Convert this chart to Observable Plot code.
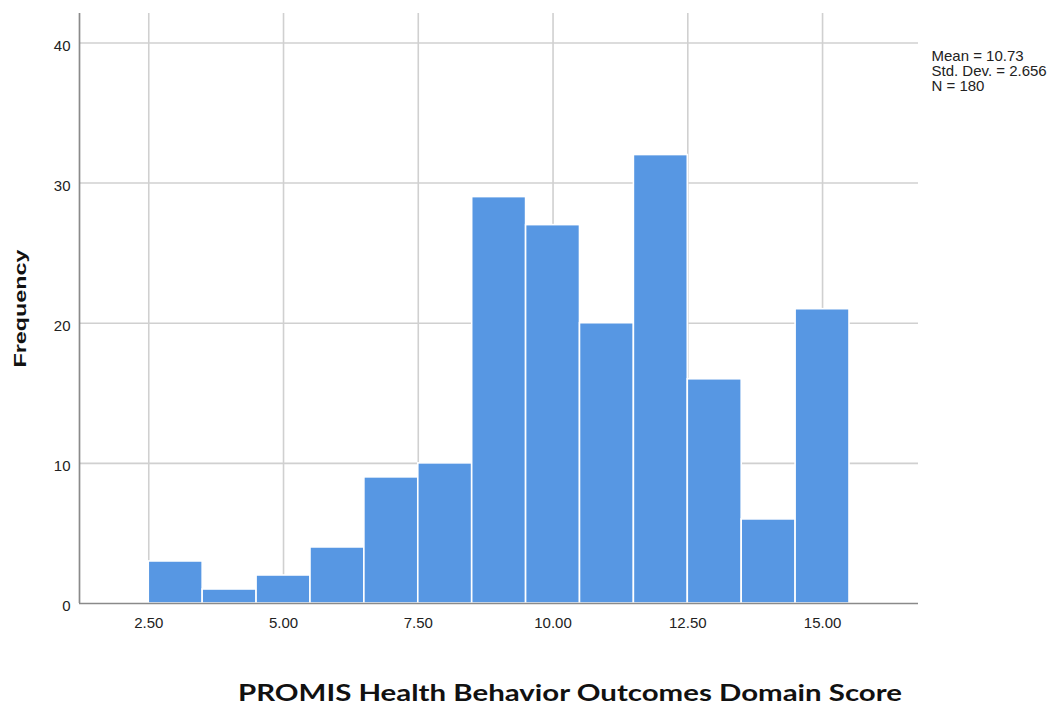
<!DOCTYPE html>
<html>
<head>
<meta charset="utf-8">
<script src="https://cdn.jsdelivr.net/npm/d3@7"></script>
<script src="https://cdn.jsdelivr.net/npm/@observablehq/plot@0.6"></script>
<style>
  html, body { margin: 0; padding: 0; background: #fff; }
</style>
</head>
<body>
<div id="chart"></div>
<script>
// Histogram bins (width 1.0) and their frequencies
const binStarts = [2.5, 3.5, 4.5, 5.5, 6.5, 7.5, 8.5, 9.5, 10.5, 11.5, 12.5, 13.5, 14.5];
const binEnds   = [3.5, 4.5, 5.5, 6.5, 7.5, 8.5, 9.5, 10.5, 11.5, 12.5, 13.5, 14.5, 15.5];
const counts    = [3, 1, 2, 4, 9, 10, 29, 27, 20, 32, 16, 6, 21];
const xTicks = [2.5, 5, 7.5, 10, 12.5, 15];
const yTicks = [0, 10, 20, 30, 40];
const statsLines = ["Mean = 10.73", "Std. Dev. = 2.656", "N = 180"];
const xTitle = "PROMIS Health Behavior Outcomes Domain Score";
const yTitle = "Frequency";

const bins = binStarts.map((s, i) => ({x1: s, x2: binEnds[i], y: counts[i]}));
const sans = "'Liberation Sans', Arial, sans-serif";

const chart = Plot.plot({
  width: 1055,
  height: 707,
  marginLeft: 79,
  marginRight: 137,
  marginTop: 13,
  marginBottom: 104,
  style: {fontFamily: sans, fontSize: "15px", color: "#222", background: "#fff"},
  x: {domain: [1.215, 16.78]},
  y: {domain: [0, 42.1]},
  marks: [
    Plot.gridX(xTicks, {stroke: "#d0d0d0", strokeOpacity: 1, strokeWidth: 1.6}),
    Plot.gridY(yTicks.filter(d => d > 0), {stroke: "#d0d0d0", strokeOpacity: 1, strokeWidth: 1.6}),
    Plot.rectY(bins, {x1: "x1", x2: "x2", y: "y", fill: "#5797e3", stroke: "#ffffff", strokeWidth: 1.6}),
    Plot.axisX(xTicks, {tickSize: 0, tickPadding: 14, tickFormat: d3.format(".2f"), label: null, fontSize: 15, fontFamily: sans, fill: "#222"}),
    Plot.axisY(yTicks, {tickSize: 0, tickPadding: 9, dy: 3, label: null, fontSize: 15, fontFamily: sans, fill: "#222"}),
    Plot.ruleY([0], {stroke: "#8a8a8a", strokeWidth: 1.7}),
    Plot.ruleX([1.215], {stroke: "#8a8a8a", strokeWidth: 1.7}),
    Plot.text([statsLines.join("\n")], {frameAnchor: "top-right", dx: 13, dy: 37, textAnchor: "start", lineAnchor: "top", lineHeight: 1.0, fontSize: 15, fontFamily: sans, fill: "#222"}),
    Plot.text([yTitle], {frameAnchor: "left", textAnchor: "middle", dx: -59, rotate: -90, fontSize: 16, fontWeight: "bold", fontFamily: sans, fill: "#111"}),
    Plot.text([xTitle], {frameAnchor: "bottom", textAnchor: "middle", lineAnchor: "middle", dx: 71, dy: 90, fontSize: 22, fontWeight: "bold", fill: "#111", fontFamily: "Lato, 'Open Sans', sans-serif"})
  ]
});
// stretch the titles to the lengths seen in the reference
d3.select(chart).selectAll("text").each(function() {
  const t = this.textContent;
  if (t === yTitle) { this.setAttribute("textLength", 118); this.setAttribute("lengthAdjust", "spacingAndGlyphs"); }
  if (t === xTitle) { this.setAttribute("textLength", 664); this.setAttribute("lengthAdjust", "spacingAndGlyphs"); }
});
document.getElementById("chart").appendChild(chart);
</script>
</body>
</html>
